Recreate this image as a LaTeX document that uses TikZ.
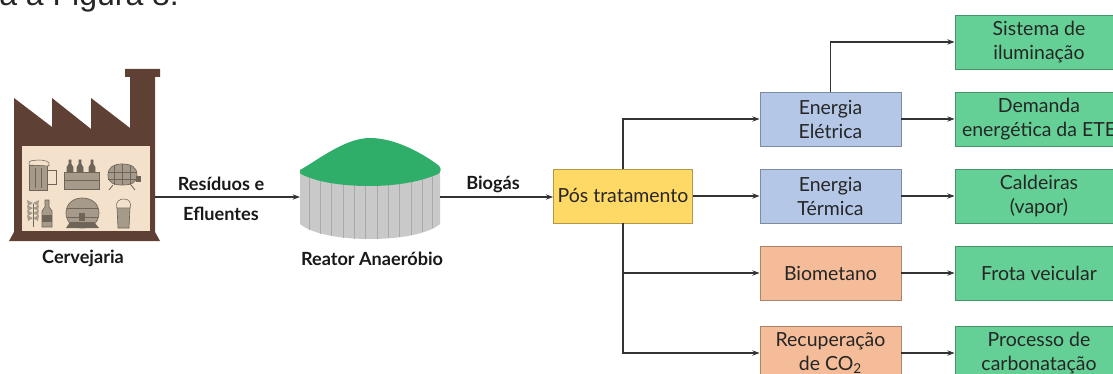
\documentclass[tikz,border=0pt]{standalone}
\usepackage{fontspec}
\setmainfont{Lato}
\newfontfamily\bodyfont{Liberation Sans}
\usetikzlibrary{arrows.meta}
\definecolor{brick}{HTML}{5F4035}
\definecolor{cream}{HTML}{F3E1CC}
\definecolor{iconfill}{HTML}{A69B8B}
\definecolor{iconline}{HTML}{6E6558}
\definecolor{boxblue}{HTML}{B4C7E7}
\definecolor{boxorange}{HTML}{F4BC98}
\definecolor{boxgreen}{HTML}{64D096}
\definecolor{boxyellow}{HTML}{FFD966}
\definecolor{domegreen}{HTML}{2FAE69}
\definecolor{tankgrey}{HTML}{C9C9C9}
\definecolor{tankline}{HTML}{A9A9A9}
\tikzset{
  x=0.75pt,y=-0.75pt,
  basebox/.style={rectangle,draw=#1!70!black,fill=#1,line width=0.6pt,inner sep=0pt,align=center,
    font=\fontsize{14.6pt}{18pt}\selectfont,text=black!85,minimum height=40.5pt,
    execute at begin node={\vspace*{2.2pt}}},
  bluebox/.style={basebox=boxblue,minimum width=105.75pt},
  orangebox/.style={basebox=boxorange,minimum width=105.75pt},
  greenbox/.style={basebox=boxgreen,minimum width=126pt},
  yellowbox/.style={basebox=boxyellow,minimum width=104.25pt},
  caption/.style={font=\fontsize{13.6pt}{16pt}\selectfont\bfseries,text=black!90,inner sep=0pt},
  link/.style={draw=black!80,line width=1.1pt,-{Stealth[length=5.5pt,width=4pt]}},
  holder/.style={inner sep=0pt,minimum width=#1},
  ico/.style={draw=iconline,fill=iconfill,line width=0.5pt},
  icodark/.style={draw=iconline,line width=0.6pt}
}
\begin{document}
\begin{tikzpicture}
\useasboundingbox (0,0) rectangle (1113,374);
\clip (0,0) rectangle (1113,374);
\fill[white] (0,0) rectangle (1113,374);

% running text above the figure
\node[anchor=base west,inner sep=0pt,font=\bodyfont\fontsize{24pt}{28pt}\selectfont,text=black!85] (intro) at (-1,6) {a a Figura 8.};

% brewery building
\fill[brick] (14,98) -- (52,127) -- (52,98) -- (91,129) -- (91,98) -- (130,128) -- (130,77)
  -- (125,77) -- (125,69) -- (160,69) -- (160,77) -- (155,77) -- (155,232) -- (160,241)
  -- (9,241) -- (14,232) -- cycle;
\fill[cream] (22,146) rectangle (150,231);

% mug
\fill[ico] (29,165) rectangle (47,190);
\draw[icodark] (47,170) -- (56,170) -- (56,184) -- (47,184);
\draw[icodark] (35,168) -- (35,188) (41,168) -- (41,188);
\fill[cream,draw=iconline,line width=0.4pt] (29,165) .. controls (28,159) and (34,161) .. (38,160) .. controls (44,160) and (51,161) .. (49,166) -- cycle;
% crate of bottles
\foreach \bx in {70,80,92}{
  \fill[ico,fill=iconline] (\bx-3,172) -- (\bx-3,167) -- (\bx-1,164) -- (\bx-1,160) -- (\bx+1,160) -- (\bx+1,164) -- (\bx+3,167) -- (\bx+3,172) -- cycle;
}
\fill[ico] (64,172) rectangle (99,189);
\draw[icodark] (64,180) -- (99,180);
% small barrel
\fill[ico] (108,175) .. controls (108,167) and (114,164) .. (122,164) .. controls (131,164) and (137,167) .. (137,175)
  .. controls (137,183) and (131,185) .. (122,185) .. controls (114,185) and (108,183) .. (108,175) -- cycle;
\draw[icodark] (114,165) -- (114,185) (122,164) -- (122,185) (130,165) -- (130,185) (108,172) -- (137,172) (108,179) -- (137,179);
\draw[icodark] (113,185) -- (109,190) (131,185) -- (135,190);
\fill[iconline] (136,176) rectangle (141,182);
% wheat and bottle
\draw[icodark] (33,204) -- (33,227);
\foreach \wy in {203,208,213,218}{
  \fill[iconfill] (33,\wy) -- (27,\wy-3) -- (28,\wy+3) -- cycle;
  \fill[iconfill] (33,\wy) -- (39,\wy-3) -- (38,\wy+3) -- cycle;
}
\fill[ico] (42,227) -- (42,211) -- (45,207) -- (45,200) -- (49,200) -- (49,207) -- (52,211) -- (52,227) -- cycle;
\fill[iconline] (42,215) rectangle (52,222);
% large barrel
\fill[ico] (66,213) .. controls (66,203) and (74,198) .. (82,198) .. controls (91,198) and (99,203) .. (99,213)
  .. controls (99,223) and (91,228) .. (82,228) .. controls (74,228) and (66,223) .. (66,213) -- cycle;
\draw[icodark] (67,208) -- (98,208) (67,217) -- (98,217);
\fill[iconline] (70,222) -- (66,228) -- (99,228) -- (94,222) -- cycle;
\fill[iconline] (79,213) rectangle (85,221);
% beer glass
\fill[ico] (117,207) -- (130,207) -- (129,228) -- (118,228) -- cycle;
\fill[cream,draw=iconline,line width=0.4pt] (117,208) .. controls (115,201) and (120,199) .. (124,199) .. controls (129,199) and (132,203) .. (130,208) -- cycle;

% anchor boxes for the two drawings
\node[holder=105.75pt,minimum height=128pt] (brewery) at (84.5,155) {};
\node[holder=105pt,minimum height=76pt] (reactor) at (370,189) {};
\coordinate (breweryout) at (155,197);
\coordinate (reactorin) at (300,197);
\coordinate (reactorout) at (440,197);

% anaerobic reactor: tank, staves and gas dome
\fill[tankgrey] (300,170) -- (300,224) .. controls (312,234) and (340,239) .. (370,239)
  .. controls (400,239) and (428,234) .. (440,224) -- (440,170) -- cycle;
\foreach \sx/\sb in {309/230,320/234,331/236,343/238,354/239,365/239,377/239,388/238,399/237,411/235,422/232,432/228}{
  \draw[tankline,line width=0.45pt] (\sx,175) -- (\sx,\sb);
}
\fill[domegreen] (300,170) .. controls (318,160) and (345,138) .. (370,138)
  .. controls (395,138) and (422,153) .. (438,165) .. controls (442,168) and (441,172) .. (438,174)
  .. controls (420,182) and (395,186) .. (370,186) .. controls (345,186) and (320,183) .. (303,175)
  .. controls (300,174) and (299,172) .. (300,170) -- cycle;

% process boxes
\node[yellowbox] (post) at (623,196) {Pós tratamento};
\node[bluebox] (eletrica) at (830.5,119) {Energia\\Elétrica};
\node[bluebox] (termica) at (830.5,196) {Energia\\Térmica};
\node[orangebox] (biometano) at (830.5,273) {Biometano};
\node[orangebox] (recup) at (830.5,353) {Recuperação\\de CO\textsubscript{2}};
\node[greenbox] (ilum) at (1039,42) {Sistema de\\iluminação};
\node[greenbox] (ete) at (1039,119) {Demanda\\energética da ETE};
\node[greenbox] (caldeira) at (1039,196) {Caldeiras\\(vapor)};
\node[greenbox] (frota) at (1039,273) {Frota veicular};
\node[greenbox] (carbo) at (1039,353) {Processo de\\carbonatação};

% captions
\node[caption] (capbrew) at (83,258) {Cervejaria};
\node[caption] (capreactor) at (372,259) {Reator Anaeróbio};
\node[caption] (capres) at (221,184) {Resíduos e};
\node[caption] (capefl) at (221,214) {Efluentes};
\node[caption] (capbio) at (493,184) {Biogás};

% connectors
\draw[link] (breweryout) -- (reactorin);
\draw[link] (reactorout) -- (post.west |- reactorout);
\draw[link] (post.north) |- (eletrica.west);
\draw[link] (post.east) -- (termica.west);
\draw[link] (post.south) |- (biometano.west);
\draw[link] (post.south) |- (recup.west);
\draw[link] (eletrica.north) |- (ilum.west);
\draw[link] (eletrica.east) -- (ete.west);
\draw[link] (termica.east) -- (caldeira.west);
\draw[link] (biometano.east) -- (frota.west);
\draw[link] (recup.east) -- (carbo.west);
\end{tikzpicture}
\end{document}
